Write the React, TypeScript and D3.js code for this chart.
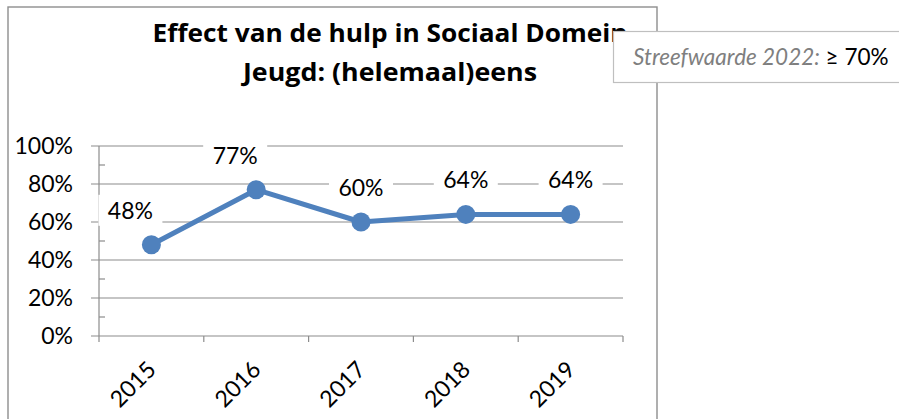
import React from "react";
import * as d3 from "d3";

const categories = ["2015", "2016", "2017", "2018", "2019"];
const values = [0.48, 0.77, 0.6, 0.64, 0.64];
const yTicks = [0, 0.2, 0.4, 0.6, 0.8, 1.0];
const yMinorTicks = [0.1, 0.3, 0.5, 0.7, 0.9];
const labelPlacement = ["aboveLeft", "aboveLeft", "above", "above", "above"];
const titleLines = ["Effect van de hulp in Sociaal Domein", "Jeugd: (helemaal)eens"];
const noteItalic = "Streefwaarde 2022:";
const noteValue = "≥ 70%";

const FONT = "Lato, 'Open Sans', sans-serif";
const TITLE_FONT = "'Open Sans', Lato, sans-serif";
const W = 899;
const H = 419;

export default function App() {
  const x = d3.scaleBand<string>().domain(categories).range([99, 623]).padding(0);
  const y = d3.scaleLinear().domain([0, 1]).range([336, 146]);
  const fmt = d3.format(".0%");
  const cx = (c: string) => (x(c) as number) + x.bandwidth() / 2;
  const line = d3
    .line<number>()
    .x((_, i) => cx(categories[i]))
    .y((d) => y(d));
  const blue = "#4F81BD";
  const grid = "#8C8C8C";
  const labelFont = 23;
  const titleWidths = [475, 294];

  return (
    <svg
      width={W}
      height={H}
      style={{ position: "absolute", left: 0, top: 0, background: "#fff" }}
      fontFamily={FONT}
    >
      {/* chart border */}
      <rect x={8} y={7} width={649} height={430} fill="#fff" stroke="#8E8E8E" strokeWidth={1.4} />

      {/* gridlines */}
      {yTicks.map((t) => (
        <line key={"g" + t} x1={91} x2={623} y1={y(t)} y2={y(t)} stroke={grid} strokeWidth={1.2} />
      ))}
      {/* y axis */}
      <line x1={99} x2={99} y1={y(1)} y2={y(0)} stroke={grid} strokeWidth={1.2} />
      {yMinorTicks.map((t) => (
        <line key={"m" + t} x1={99} x2={105} y1={y(t)} y2={y(t)} stroke={grid} strokeWidth={1.2} />
      ))}
      {/* x axis ticks */}
      {[...categories.map((c) => x(c) as number), 623].map((xx, i) => (
        <line key={"xt" + i} x1={xx} x2={xx} y1={y(0)} y2={y(0) + 6} stroke={grid} strokeWidth={1.2} />
      ))}

      {/* y tick labels */}
      {yTicks.map((t) => (
        <text key={"yl" + t} x={73} y={y(t) + 8} textAnchor="end" fontSize={labelFont} fill="#000">
          {fmt(t)}
        </text>
      ))}

      {/* x tick labels */}
      {categories.map((c) => (
        <text
          key={"xl" + c}
          transform={`translate(${cx(c) + 6},${y(0) + 35}) rotate(-45)`}
          textAnchor="end"
          fontSize={labelFont}
          fill="#000"
        >
          {c}
        </text>
      ))}

      {/* series line */}
      <path d={line(values) || ""} fill="none" stroke={blue} strokeWidth={5} strokeLinejoin="round" />
      {values.map((v, i) => (
        <circle key={"p" + i} cx={cx(categories[i])} cy={y(v)} r={9.5} fill={blue} />
      ))}

      {/* data labels */}
      {values.map((v, i) => {
        const lx = cx(categories[i]) + (labelPlacement[i] === "aboveLeft" ? -21 : 0);
        const ly = y(v) - 26;
        return (
          <g key={"dl" + i}>
            <rect x={lx - 32} y={ly - 24} width={64} height={31} fill="#fff" />
            <text x={lx} y={ly} textAnchor="middle" fontSize={labelFont} fill="#000">
              {fmt(v)}
            </text>
          </g>
        );
      })}

      {/* title */}
      {titleLines.map((t, i) => (
        <text
          key={"t" + i}
          x={390}
          y={41.7 + i * 39}
          textAnchor="middle"
          fontSize={24.5}
          fontWeight="bold"
          fontFamily={TITLE_FONT}
          textLength={titleWidths[i]}
          lengthAdjust="spacingAndGlyphs"
          fill="#000"
        >
          {t}
        </text>
      ))}

      {/* note box */}
      <rect x={613.5} y={31.5} width={300} height={51} fill="#fff" stroke="#BFBFBF" strokeWidth={1.2} />
      <text x={633} y={65} fontSize={22.5}>
        <tspan fill="#7F7F7F" fontStyle="italic">{noteItalic}</tspan>
        <tspan fill="#000">{" " + noteValue}</tspan>
      </text>
    </svg>
  );
}
